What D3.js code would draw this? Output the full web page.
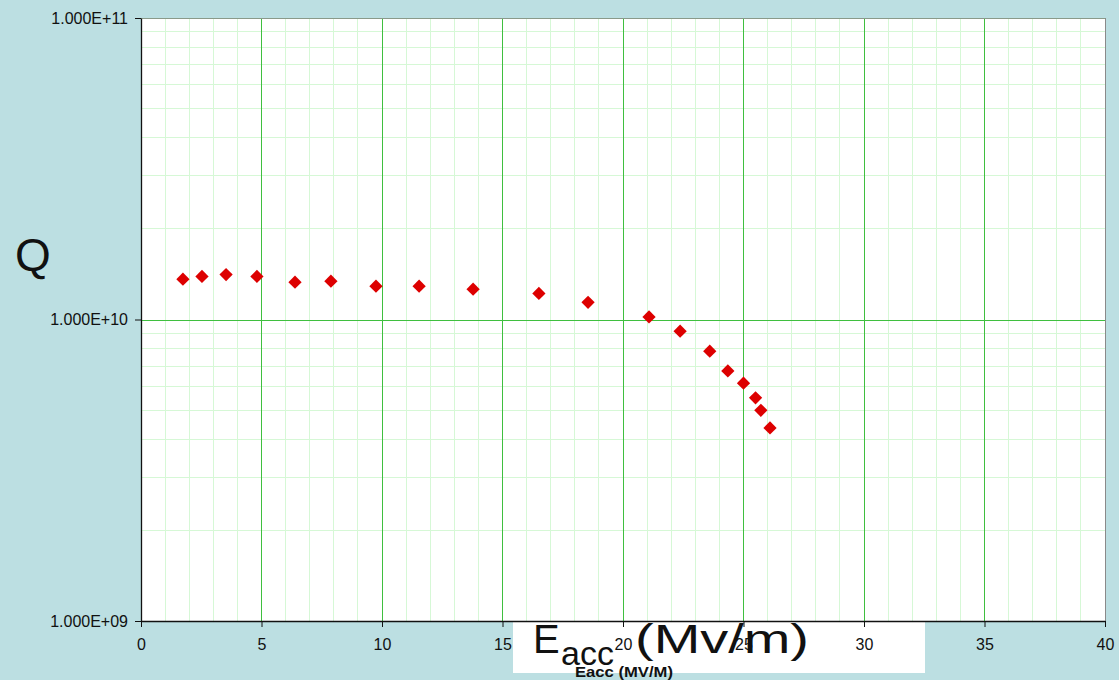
<!DOCTYPE html>
<html lang="en">
<head>
  <meta charset="UTF-8">
  <title>Q vs Eacc</title>
  <style>
    body { margin: 0; background: #bcdfe2; }
    svg { display: block; font-family: "Liberation Sans", Arial, sans-serif; }
  </style>
</head>
<body>
  <svg id="svg" width="1119" height="680"></svg>

  <script src="https://d3js.org/d3.v7.min.js"></script>
  <script>
    // field (MV/m) and quality factor
    const eacc = [1.74, 2.53, 3.53, 4.81, 6.39, 7.88, 9.75, 11.54, 13.78, 16.51,
      18.55, 21.08, 22.37, 23.6, 24.35, 25.0, 25.5, 25.72, 26.1]
    const q = [1.36e10, 1.39e10, 1.41e10, 1.39e10, 1.33e10, 1.34e10, 1.29e10, 1.29e10, 1.26e10, 1.22e10,
      1.14e10, 1.02e10, 9.15e9, 7.85e9, 6.75e9, 6.15e9, 5.5e9, 5.0e9, 4.37e9]
    const xTicks = [0, 5, 10, 15, 20, 25, 30, 35, 40]
    const yTicks = [1e9, 1e10, 1e11]

    const svg = d3.select("#svg")
    const pLeft = 141, pRight = 1105, pTop = 18, pBottom = 621

    const x = d3.scaleLinear().domain([0, 40]).range([pLeft, pRight])
    const y = d3.scaleLog().domain([1e9, 1e11]).range([pBottom, pTop])

    svg.append("rect")
      .attr("x", pLeft).attr("y", pTop)
      .attr("width", pRight - pLeft).attr("height", pBottom - pTop)
      .attr("fill", "white")

    // minor grid
    const minorX = d3.range(1, 40).filter(d => d % 5 !== 0)
    const minorY = []
    ;[1e9, 1e10].forEach(p => d3.range(2, 10).forEach(k => minorY.push(k * p)))

    const grid = svg.append("g").attr("shape-rendering", "crispEdges")
    grid.selectAll(".mx").data(minorX).enter().append("line")
      .attr("x1", d => x(d)).attr("x2", d => x(d))
      .attr("y1", pTop).attr("y2", pBottom)
      .attr("stroke", "#d6f8d6").attr("stroke-width", 1)
    grid.selectAll(".my").data(minorY).enter().append("line")
      .attr("x1", pLeft).attr("x2", pRight)
      .attr("y1", d => y(d)).attr("y2", d => y(d))
      .attr("stroke", "#d6f8d6").attr("stroke-width", 1)

    // major grid
    grid.selectAll(".Mx").data(xTicks.slice(1, -1)).enter().append("line")
      .attr("x1", d => x(d)).attr("x2", d => x(d))
      .attr("y1", pTop).attr("y2", pBottom)
      .attr("stroke", "#3fbf3f")
    grid.selectAll(".My").data([1e10]).enter().append("line")
      .attr("x1", pLeft).attr("x2", pRight)
      .attr("y1", d => Math.round(y(d))).attr("y2", d => Math.round(y(d)))
      .attr("stroke", "#3fbf3f")

    // frame top/right
    grid.append("line").attr("x1", pLeft).attr("x2", pRight).attr("y1", pTop).attr("y2", pTop)
      .attr("stroke", "#8a9a8a")
    grid.append("line").attr("x1", pRight).attr("x2", pRight).attr("y1", pTop).attr("y2", pBottom)
      .attr("stroke", "#8a8a8a")

    // points
    const pts = eacc.map((e, i) => ({ e, q: q[i] }))
    svg.append("g").selectAll("path").data(pts).enter().append("path")
      .attr("d", d3.symbol().type(d3.symbolSquare).size(88))
      .attr("transform", d => `translate(${x(d.e)},${y(d.q)}) rotate(45)`)
      .attr("fill", "#dd0000")

    // Q label
    svg.append("text").attr("x", 15).attr("y", 271)
      .style("font-size", "46px").attr("fill", "#111").text("Q")

    // white overlay box with big label (sits under the tick labels)
    svg.append("rect").attr("x", 513).attr("y", 622)
      .attr("width", 412).attr("height", 51).attr("fill", "white")
    svg.append("text").attr("x", 533).attr("y", 653)
      .style("font-size", "40px").attr("fill", "#111").text("E")
    svg.append("text").attr("x", 561).attr("y", 665)
      .style("font-size", "34px").attr("fill", "#111").text("acc")
    svg.append("text").attr("x", 635).attr("y", 653)
      .attr("textLength", 174).attr("lengthAdjust", "spacingAndGlyphs")
      .style("font-size", "40px").attr("fill", "#111").text("(Mv/m)")

    // axes
    const xAxis = svg.append("g")
      .attr("transform", `translate(0,${pBottom})`)
      .call(d3.axisBottom(x).tickValues(xTicks).tickSize(6).tickSizeOuter(0).tickPadding(12))
    const yAxis = svg.append("g")
      .attr("transform", `translate(${pLeft},0)`)
      .call(d3.axisLeft(y).tickValues(yTicks).tickSize(6).tickSizeOuter(0).tickPadding(7)
        .tickFormat(d => "1.000E+" + String(Math.round(Math.log10(d))).padStart(2, "0")))
    ;[xAxis, yAxis].forEach(a => {
      a.select(".domain").attr("stroke", "#111").attr("stroke-width", 1.3)
      a.selectAll(".tick line").attr("stroke", "#111")
      a.selectAll("text").attr("fill", "#111").style("font-size", "16px")
        .style("font-family", "'Liberation Sans', Arial, sans-serif")
    })

    svg.append("text").attr("x", 575).attr("y", 677)
      .attr("textLength", 98).attr("lengthAdjust", "spacingAndGlyphs")
      .style("font-size", "14px").style("font-weight", "bold")
      .attr("fill", "#111").text("Eacc (MV/M)")
  </script>
</body>
</html>
